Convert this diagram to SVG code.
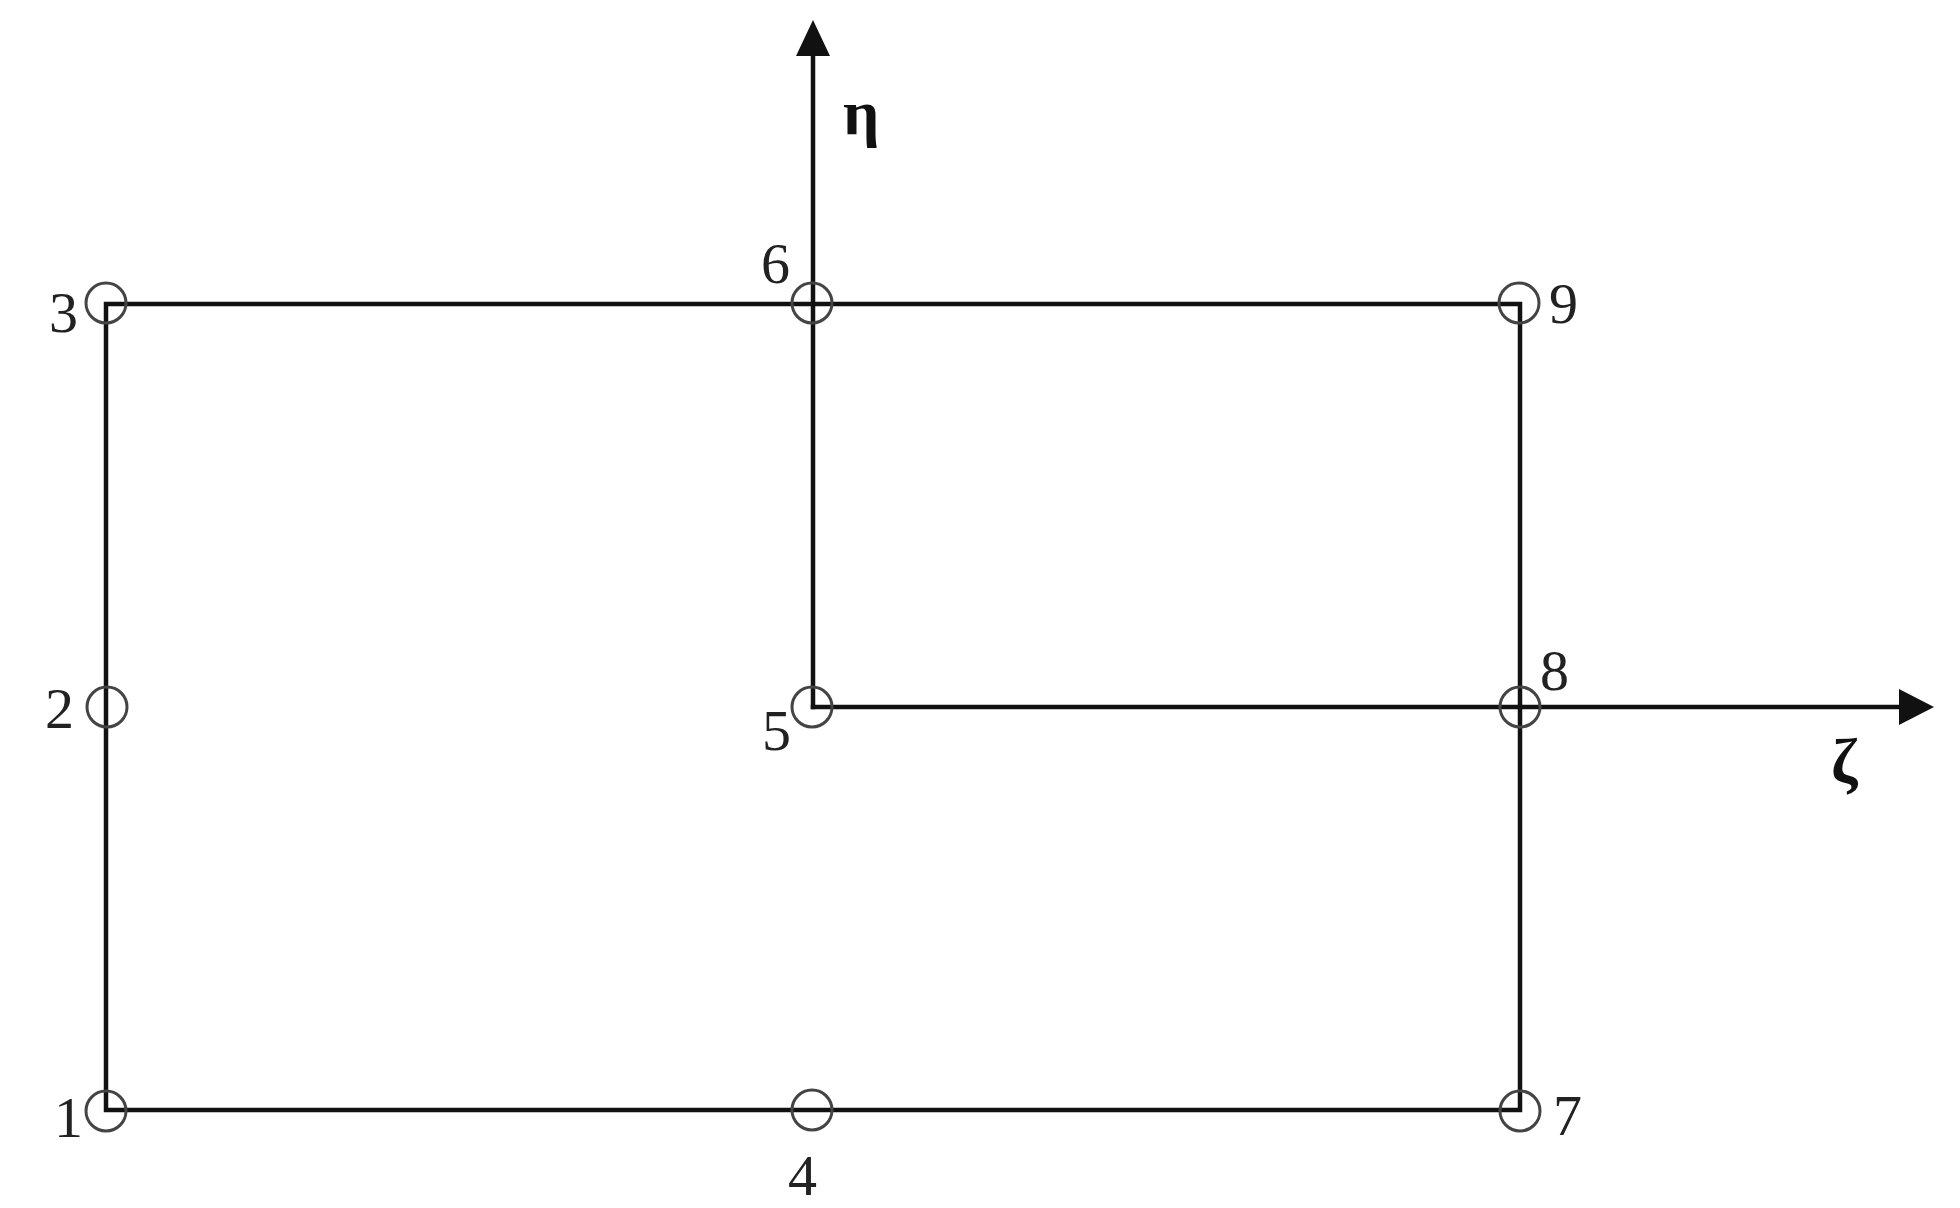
<svg xmlns="http://www.w3.org/2000/svg" width="1960" height="1208" viewBox="0 0 1960 1208">
<style>
.ln{stroke:#111;stroke-width:4.5;fill:none;stroke-linecap:square}
.nd{fill:none;stroke:#444;stroke-width:3}
.lb{font-family:"Liberation Serif","Times New Roman",serif;font-size:58px;fill:#222}
.gk{font-family:"Liberation Serif","Times New Roman",serif;font-size:64px;font-weight:bold;fill:#111}
</style>
<g id="connectors">
<path class="ln" d="M106 304 H1520 V1110 H106 Z"/>
<line class="ln" x1="813" y1="707" x2="813" y2="55"/>
<line class="ln" x1="813" y1="707" x2="1900" y2="707"/>
<polygon points="813,20 796,56 830,56" fill="#111"/>
<polygon points="1934,707 1899,689 1899,725" fill="#111"/>
</g>
<g id="node1"><circle class="nd" cx="106" cy="1111" r="20"/><text class="lb" x="54" y="1137">1</text></g>
<g id="node2"><circle class="nd" cx="107" cy="707" r="20"/><text class="lb" x="45" y="728">2</text></g>
<g id="node3"><circle class="nd" cx="106" cy="303" r="20"/><text class="lb" x="49" y="332">3</text></g>
<g id="node4"><circle class="nd" cx="812" cy="1110" r="20"/><text class="lb" x="788" y="1195">4</text></g>
<g id="node5"><circle class="nd" cx="812" cy="707" r="20"/><text class="lb" x="762" y="750">5</text></g>
<g id="node6"><circle class="nd" cx="812" cy="303" r="20"/><text class="lb" x="761" y="283">6</text></g>
<g id="node7"><circle class="nd" cx="1520" cy="1111" r="20"/><text class="lb" x="1553" y="1135">7</text></g>
<g id="node8"><circle class="nd" cx="1520" cy="707" r="20"/><text class="lb" x="1540" y="690">8</text></g>
<g id="node9"><circle class="nd" cx="1519" cy="303" r="20"/><text class="lb" x="1549" y="323">9</text></g>
<g id="axis-eta"><text class="gk" x="843" y="134">η</text></g>
<g id="axis-zeta"><text class="gk" x="1831" y="783">ζ</text></g>
</svg>
